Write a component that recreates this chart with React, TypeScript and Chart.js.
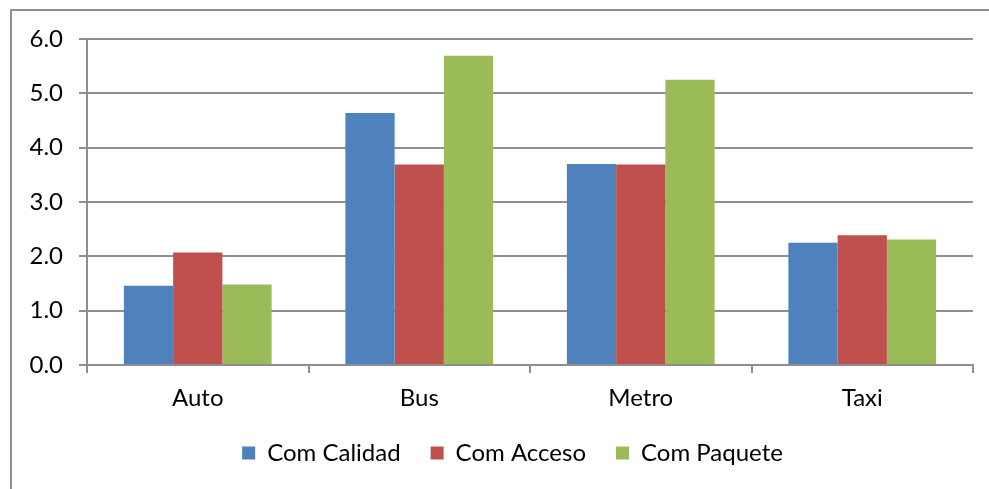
import React, { useEffect, useRef } from "react";
import { Chart, registerables } from "chart.js";

Chart.register(...registerables);

const categories = ["Auto", "Bus", "Metro", "Taxi"];
const comCalidad = [1.46, 4.64, 3.70, 2.25];
const comAcceso = [2.07, 3.69, 3.69, 2.39];
const comPaquete = [1.48, 5.69, 5.25, 2.31];
const seriesNames = ["Com Calidad", "Com Acceso", "Com Paquete"];
const seriesColors = ["#4F81BD", "#C0504D", "#9BBB59"];

const FONT = "Lato, 'Open Sans', sans-serif";
const FONT_SIZE = 24;
const AXIS_GREY = "#8f8f8f";
const LEGEND_SHIFT = 20;

// Nudges the bottom legend to the right of the canvas centre line.
const legendOffset = {
  id: "legendOffset",
  afterLayout(chart: any) {
    const legend = chart.legend;
    if (!legend) return;
    legend.left += LEGEND_SHIFT;
    legend.right += LEGEND_SHIFT;
  },
};

export default function App() {
  const canvasRef = useRef<HTMLCanvasElement | null>(null);

  useEffect(() => {
    if (!canvasRef.current) return;
    const values = [comCalidad, comAcceso, comPaquete];
    const chart = new Chart(canvasRef.current, {
      type: "bar",
      data: {
        labels: categories,
        datasets: seriesNames.map((name, i) => ({
          label: name,
          data: values[i],
          backgroundColor: seriesColors[i],
          borderWidth: 0,
          barPercentage: 1.0,
          categoryPercentage: 0.667,
        })),
      },
      options: {
        responsive: false,
        animation: false,
        devicePixelRatio: 1,
        layout: { padding: { top: 28, right: 16, left: 0, bottom: 14 } },
        plugins: {
          legend: {
            position: "bottom",
            labels: {
              color: "#000",
              font: { family: FONT, size: FONT_SIZE },
              boxWidth: 13,
              boxHeight: 13,
              padding: 30,
            },
          },
          tooltip: { enabled: false },
        },
        scales: {
          x: {
            afterFit: (scale: any) => {
              scale.height = 46;
            },
            grid: {
              display: true,
              drawOnChartArea: false,
              drawTicks: true,
              tickLength: 8,
              color: AXIS_GREY,
              lineWidth: 2,
              offset: true,
            },
            border: { display: true, color: AXIS_GREY, width: 2 },
            ticks: {
              color: "#000",
              font: { family: FONT, size: FONT_SIZE },
              padding: 11,
            },
          },
          y: {
            min: 0,
            max: 6,
            afterFit: (scale: any) => {
              scale.width = 75;
              scale.paddingTop = 0;
              scale.paddingBottom = 0;
            },
            grid: {
              color: AXIS_GREY,
              lineWidth: 2,
              drawTicks: true,
              tickLength: 8,
            },
            border: { display: true, color: AXIS_GREY, width: 2 },
            ticks: {
              stepSize: 1,
              color: "#000",
              font: { family: FONT, size: FONT_SIZE },
              padding: 16,
              callback: (v: any) => Number(v).toFixed(1),
            },
          },
        },
      },
      plugins: [legendOffset],
    });
    return () => chart.destroy();
  }, []);

  return (
    <div
      style={{
        position: "absolute",
        left: 10,
        top: 9,
        width: 977,
        height: 478,
        borderLeft: `2px solid ${AXIS_GREY}`,
        borderTop: `2px solid ${AXIS_GREY}`,
      }}
    >
      <canvas ref={canvasRef} width={977} height={478} />
    </div>
  );
}
